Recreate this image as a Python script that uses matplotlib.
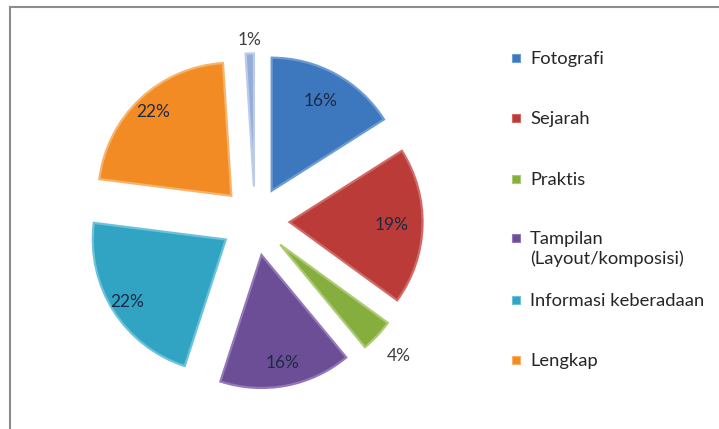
import numpy as np
import matplotlib
matplotlib.use("Agg")
import matplotlib.pyplot as plt
from matplotlib.patches import Rectangle
from matplotlib.lines import Line2D

# ---------- DATA ----------
categories = ["Fotografi", "Sejarah", "Praktis", "Tampilan\n(Layout/komposisi)",
              "Informasi keberadaan", "Lengkap", ""]
values = [16, 19, 4, 16, 22, 22, 1]
colors = ["#3D78BE", "#BA3B37", "#86AE3F", "#6C4E97", "#31A4C4", "#F28B24", "#93ACD9"]
edge_colors = ["#6E9BD3", "#D06A66", "#ABCB72", "#9379B7", "#6CC2DA", "#F8B26A", "#BBCBE8"]

plt.rcParams["font.family"] = ["Lato", "DejaVu Sans"]

W, H = 719, 429
fig = plt.figure(figsize=(W / 100, H / 100), dpi=100)

# pie axes spanning the whole figure, scaled so 1 unit = R px
R = 133.0
cx, cy = 255.0, 429 - 221.0
ax = fig.add_axes([0, 0, 1, 1])

wedges, texts, autotexts = ax.pie(
    values,
    colors=colors,
    startangle=90,
    counterclock=False,
    explode=[0.26] * len(values),
    autopct="%1.0f%%",
    pctdistance=0.8,
    wedgeprops=dict(linewidth=1.6),
    textprops=dict(fontsize=12.5, color="#1E2A45"),
)
for w, ec in zip(wedges, edge_colors):
    w.set_edgecolor(ec)

# label distance per slice (Excel "best fit" placement)
label_dist = [0.77, 0.77, 1.22, 0.83, 0.88, 0.86, 1.10]
for i, d in enumerate(label_dist):
    w = wedges[i]
    mid = np.deg2rad((w.theta1 + w.theta2) / 2)
    x0, y0 = w.center
    autotexts[i].set_position((x0 + d * w.r * np.cos(mid), y0 + d * w.r * np.sin(mid)))
    if d > 1:
        autotexts[i].set_color("#404040")

ax.set_aspect("auto")
ax.set_xlim(-cx / R, (W - cx) / R)
ax.set_ylim(-cy / R, (H - cy) / R)
ax.axis("off")

# ---------- LEGEND ----------
legend_y = [58, 118, 179, 238, 300, 360]
for i, lab in enumerate(categories[:6]):
    y = legend_y[i]
    fig.patches.append(Rectangle((512 / W, 1 - (y + 4) / H), 8 / W, 8 / H,
                                 transform=fig.transFigure, facecolor=colors[i],
                                 edgecolor=edge_colors[i], linewidth=0.8))
    for k, line in enumerate(lab.split("\n")):
        fig.text(530 / W, 1 - (y + 6 + 20 * k) / H, line, fontsize=13.2,
                 color="#262626", va="baseline", ha="left")

# ---------- BORDER ----------
fig.add_artist(Line2D([9.5 / W, 9.5 / W], [0, 1 - 6.5 / H], color="#8C8C8C", lw=1.5,
                      transform=fig.transFigure))
fig.add_artist(Line2D([9.5 / W, 1], [1 - 6.5 / H, 1 - 6.5 / H], color="#8C8C8C", lw=1.5,
                      transform=fig.transFigure))

fig.savefig("out.png", dpi=100, facecolor="white")
